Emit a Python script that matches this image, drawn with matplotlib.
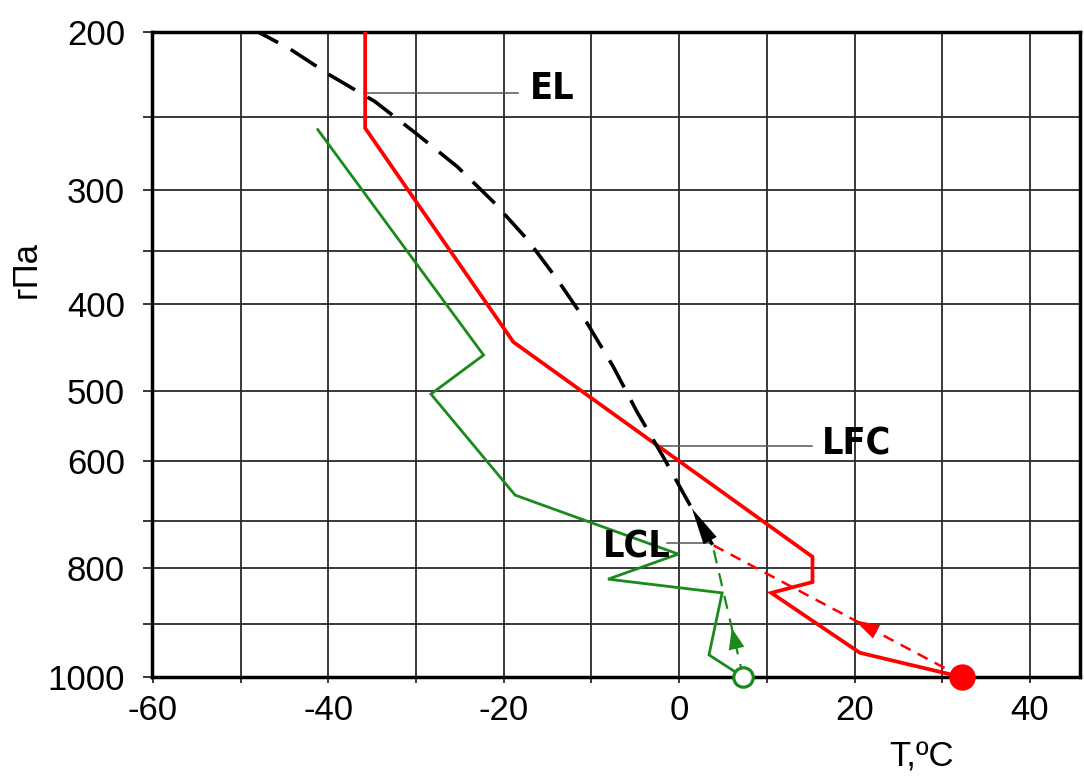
import numpy as np
import matplotlib
matplotlib.use("Agg")
import matplotlib.pyplot as plt
from matplotlib import font_manager
from matplotlib.patches import FancyArrowPatch

# environment temperature profile (red)
env_p = [200, 257, 441, 775, 824, 843, 953, 1000]
env_t = [-35.8, -35.8, -18.9, 15.2, 15.2, 10.5, 20.6, 32.2]

# dew point profile (green)
dew_p = [258, 456, 504, 655, 769, 819, 843, 957, 1000]
dew_t = [-41.2, -22.3, -28.3, -18.7, -0.1, -8.1, 4.9, 3.4, 7.3]

# lifted parcel: surface -> LCL (dry), then moist adiabat up to 200 hPa
surf_p, surf_t, surf_td = 1000, 32.2, 7.3
lcl_p, lcl_t = 749, 3.8
moist_p = [749, 663, 594, 528, 470, 420, 376, 340, 309, 283, 260, 240, 224, 209, 200]
moist_t = [3.8, 0.9, -1.8, -4.8, -7.5, -10.5, -13.9, -17.3, -21.2, -25.3, -30.1, -34.7, -39.8, -44.4, -48.0]

# level labels: pressure, leader start T, leader end T
el_p, el_t0, el_t1 = 235, -35.8, -18.4
lfc_p, lfc_t0, lfc_t1 = 577, -2.2, 15.2
lcl_lab_t0, lcl_lab_t1 = -1.4, 3.8

y_major = [200, 300, 400, 500, 600, 800, 1000]
y_minor = [250, 350, 700, 900]
x_major = [-60, -40, -20, 0, 20, 40]
x_labels = ['-60', '-40', '-20', '0', '20', '40']
x_minor = [-50, -30, -10, 10, 30]

# the pressure axis of this diagram is not quite logarithmic:
# rows of the printed isobars (pixels from the top of the figure)
P_ANCHOR = np.array([200, 250, 300, 350, 400, 500, 600, 700, 800, 900, 1000])
ROW = np.array([32, 117, 190, 251, 304, 391, 461, 521, 568, 624, 677])
LOGP = np.log(P_ANCHOR)
DEPTH = (ROW - ROW[0]) / (ROW[-1] - ROW[0])


def p_fwd(p):
    return np.interp(np.log(np.clip(p, 1, None)), LOGP, DEPTH)


def p_inv(d):
    return np.exp(np.interp(d, DEPTH, LOGP))


def narrow_bold():
    # look for a condensed bold face among the installed fonts
    fl = font_manager.fontManager.ttflist
    def is_bold(f):
        w = f.weight
        return (w >= 600) if isinstance(w, int) else ('bold' in str(w).lower())
    for f in fl:
        if 'Narrow' in f.name and f.name.startswith('Liberation') and is_bold(f):
            return font_manager.FontProperties(fname=f.fname)
    for f in fl:
        if str(f.stretch) in ('condensed', 'semi-condensed', '75', '87') and is_bold(f) \
                and 'Oblique' not in f.fname and 'Italic' not in f.fname:
            return font_manager.FontProperties(fname=f.fname)
    for f in fl:
        if ('Condensed' in f.fname or 'Narrow' in f.fname) and 'Bold' in f.fname \
                and 'Oblique' not in f.fname and 'Italic' not in f.fname:
            return font_manager.FontProperties(fname=f.fname)
    return font_manager.FontProperties(family='Liberation Sans', weight='bold')


plt.rcParams['font.family'] = ['Liberation Sans', 'DejaVu Sans']

RED = '#ff0000'
GREEN = '#1a8a1a'
GRID = '#2a2a2a'

fig = plt.figure(figsize=(10.84, 7.76), dpi=100)
ax = fig.add_axes([152 / 1084, 1 - 677 / 776, 928 / 1084, 645 / 776])
ax.set_yscale('function', functions=(p_fwd, p_inv))
ax.set_xlim(-60.1, 45.7)
ax.set_ylim(1000, 200)

ax.set_yticks(y_major)
ax.set_yticklabels([str(v) for v in y_major])
ax.set_yticks(y_minor, minor=True)
ax.set_xticks(x_major)
ax.set_xticklabels(x_labels)
ax.set_xticks(x_minor, minor=True)

ax.set_axisbelow(True)
ax.grid(which='both', color=GRID, lw=1.3)
ax.tick_params(axis='y', which='both', direction='out', length=6.5, width=1.3,
               color=GRID, labelsize=25, pad=13)
ax.tick_params(axis='x', which='both', direction='out', length=4.3, width=1.3,
               color=GRID, labelsize=25, pad=8)
for s in ax.spines.values():
    s.set_linewidth(2.5)
    s.set_color('black')

# profiles
ax.plot(env_t, env_p, color=RED, lw=2.7, solid_joinstyle='miter', zorder=3)
ax.plot(dew_t, dew_p, color=GREEN, lw=2.0, solid_joinstyle='miter', zorder=3)

# parcel path
ax.plot([surf_t, lcl_t], [surf_p, lcl_p], color=RED, lw=1.8, dashes=(4.5, 3.2), zorder=3)
ax.plot([surf_td, lcl_t], [surf_p, lcl_p], color=GREEN, lw=1.6, dashes=(6, 4.5), zorder=3)
ax.plot(moist_t, moist_p, color='black', lw=2.6, dashes=(8.5, 4), zorder=4)

ax.plot([surf_t], [surf_p], 'o', color=RED, ms=18, clip_on=False, zorder=6)
ax.plot([surf_td], [surf_p], 'o', mfc='white', mec=GREEN, mew=2.3, ms=14,
        clip_on=False, zorder=6)


def head_on(start, end, frac, length, half_width, color):
    # arrow head sitting on the straight path start -> end (display space)
    a = ax.transData.transform(start)
    b = ax.transData.transform(end)
    u = (b - a) / np.hypot(*(b - a))
    tip = a + (b - a) * frac
    tail = tip - u * (length + 1)
    inv = ax.transData.inverted()
    ar = FancyArrowPatch(inv.transform(tail), inv.transform(tip),
                         arrowstyle=f'-|>,head_length={length / 1.389:.2f},'
                                    f'head_width={half_width / 1.389:.2f}',
                         mutation_scale=1, color=color, lw=0,
                         shrinkA=0, shrinkB=0, zorder=5)
    ax.add_patch(ar)


head_on((surf_t, surf_p), (lcl_t, lcl_p), 0.43, 25, 7.5, RED)
head_on((surf_td, surf_p), (lcl_t, lcl_p), 0.37, 21, 8, GREEN)
head_on((lcl_t, lcl_p), (moist_t[1], moist_p[1]), 0.81, 37, 7.5, 'black')

# level annotations
fp = narrow_bold()
fp.set_size(27)
lead = dict(color='#555555', lw=1.1, zorder=2)
ax.plot([el_t0, el_t1], [el_p, el_p], **lead)
ax.text(el_t1 + 1.4, el_p - 3, 'EL', ha='left', va='center', fontproperties=fp)
ax.plot([lfc_t0, lfc_t1], [lfc_p, lfc_p], **lead)
ax.text(lfc_t1 + 1.1, lfc_p - 2, 'LFC', ha='left', va='center', fontproperties=fp)
ax.plot([lcl_lab_t0, lcl_lab_t1], [lcl_p - 4, lcl_p - 4], **lead)
ax.text(lcl_lab_t0 + 0.4, lcl_p + 6, 'LCL', ha='right', va='center', fontproperties=fp)

fig.text(26 / 1084, 1 - 270 / 776, 'гПа', rotation=90, ha='center', va='center', fontsize=25)
fig.text(922 / 1084, 1 - 757 / 776, 'T,ºC', ha='center', va='center', fontsize=25)

fig.savefig('out.png', dpi=100)
